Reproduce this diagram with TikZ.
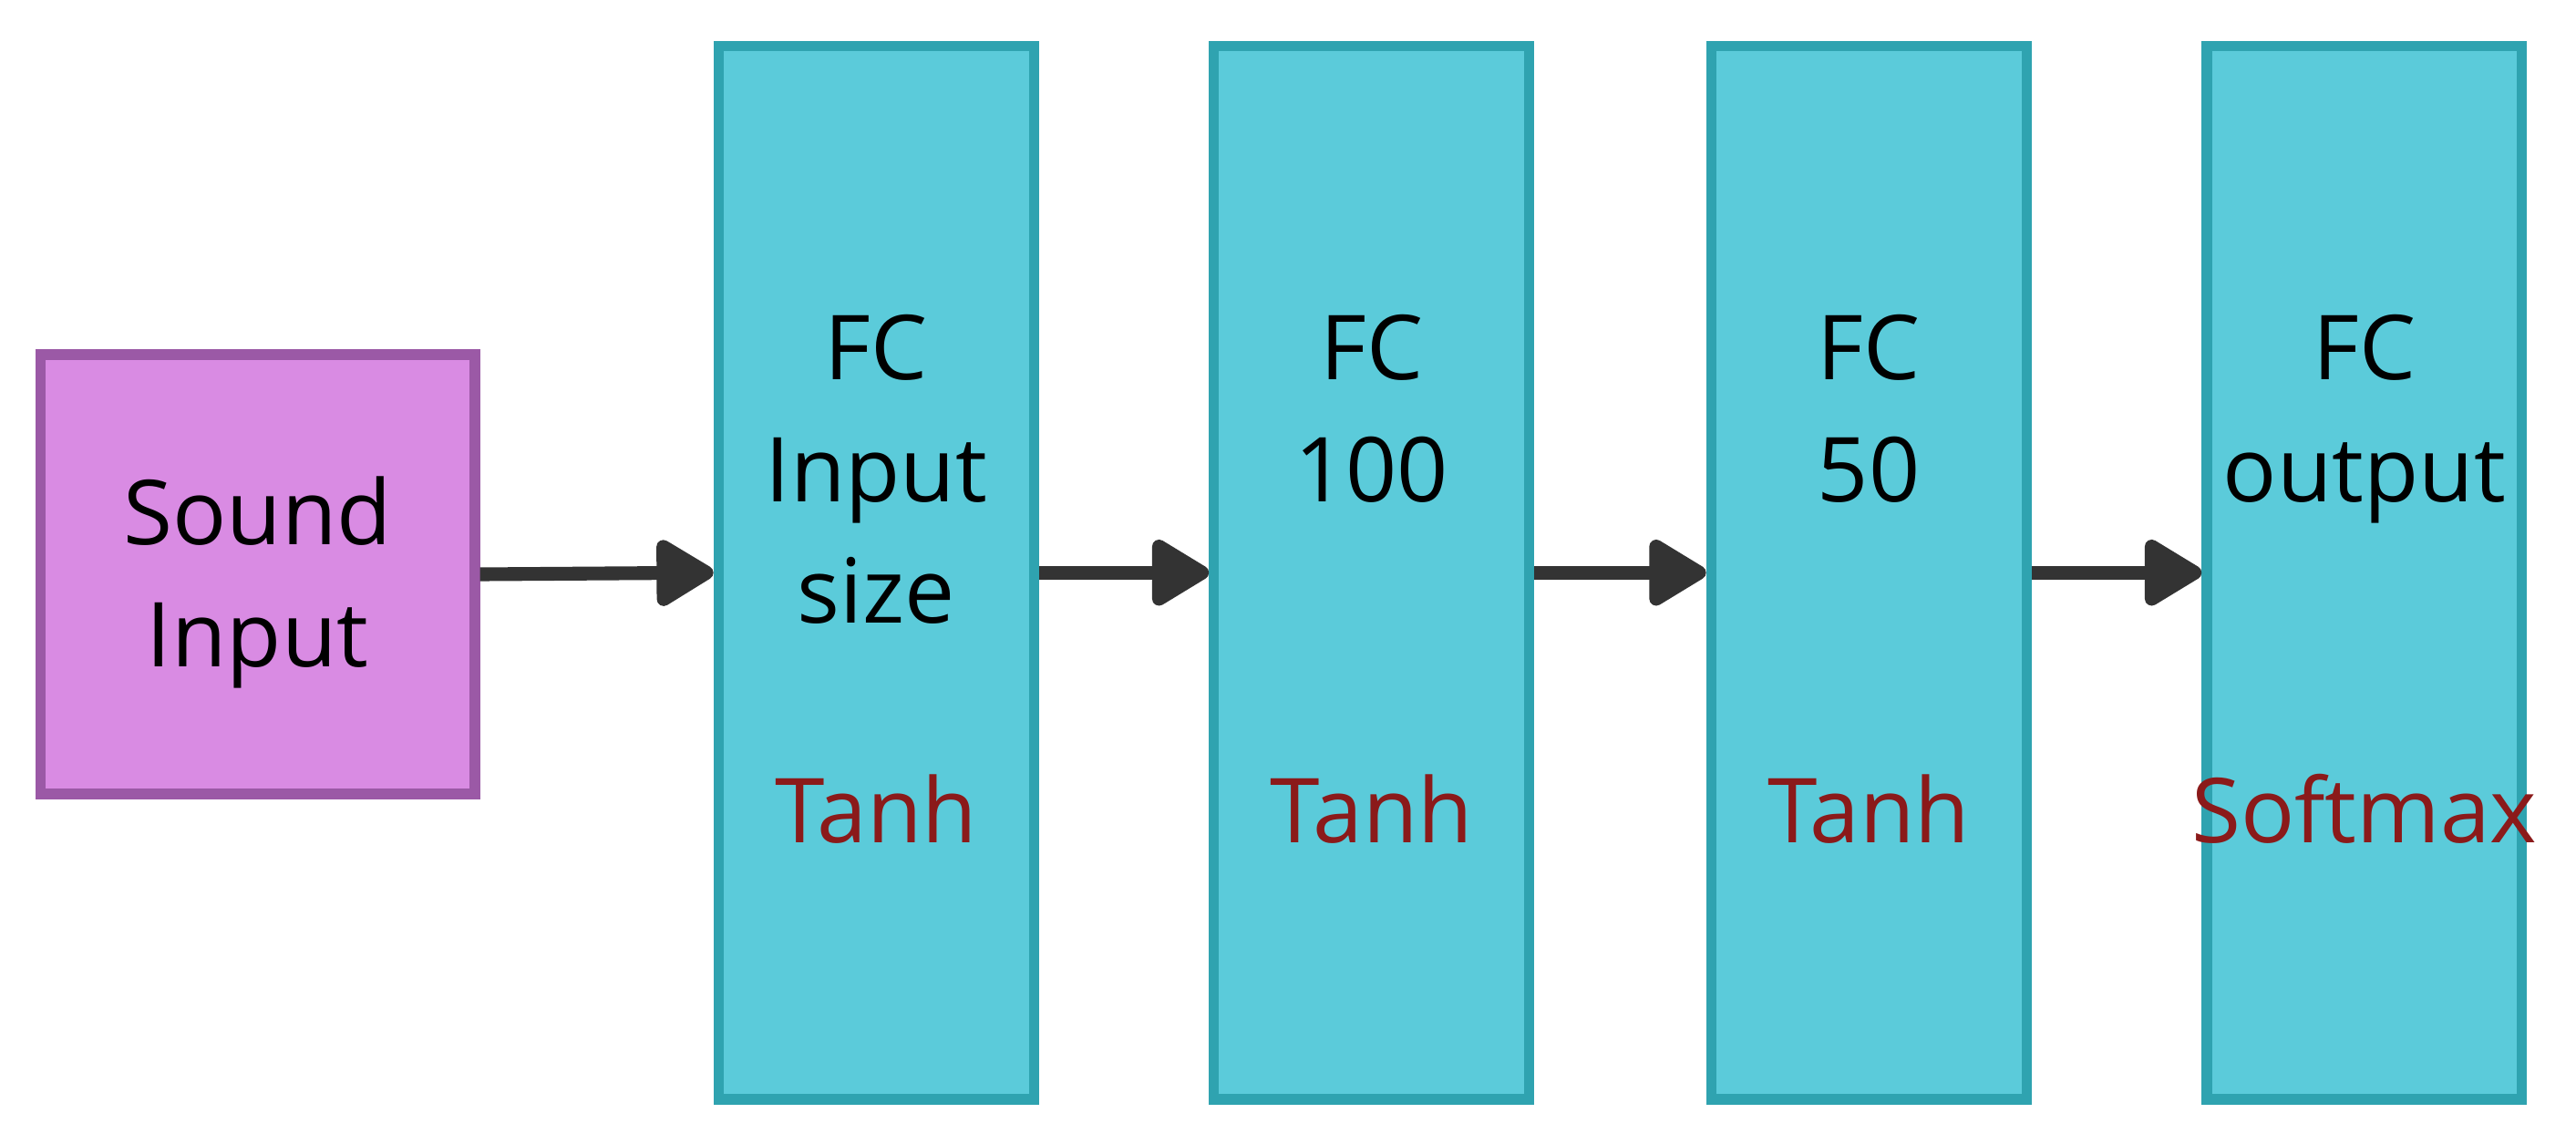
\documentclass[tikz,border=0pt]{standalone}
\usepackage{fontspec}
\setmainfont{Open Sans}
\usetikzlibrary{arrows.meta}
\definecolor{pinkf}{HTML}{D98BE3}
\definecolor{pinkd}{HTML}{9B59A6}
\definecolor{cyanf}{HTML}{5BCBDA}
\definecolor{cyand}{HTML}{2FA3B0}
\definecolor{act}{HTML}{8B1A1A}
\definecolor{arr}{HTML}{333333}
\begin{document}
\begin{tikzpicture}[x=0.018cm,y=-0.018cm,
  box/.style={draw=cyand,fill=cyanf,line width=3.2pt,minimum width=3.46cm,minimum height=11.56cm,inner sep=0pt},
  lbl/.style={font=\fontsize{28}{38}\selectfont,align=center,text=black},
  actl/.style={font=\fontsize{28}{38}\selectfont,text=act},
  con/.style={draw=arr,line width=4.3pt,-{Triangle[length=0.7cm,width=0.8cm,round]}}]
\useasboundingbox (0,0) rectangle (1570,697);
\node[draw=pinkd,fill=pinkf,line width=3.2pt,minimum width=4.77cm,minimum height=4.82cm,inner sep=0pt] (in) at (157,350) {};
\node[lbl] at (157,355) {Sound\\Input};
\foreach \n/\x in {a/534,b/836,c/1139,d/1441}{
  \node[box] (\n) at (\x,349) {};
}
\node[lbl,anchor=north] at (534,185) {FC\\Input\\size};
\node[lbl,anchor=north] at (836,185) {FC\\100};
\node[lbl,anchor=north] at (1139,185) {FC\\50};
\node[lbl,anchor=north] at (1441,185) {FC\\output};
\node[actl] at (534,493) {Tanh};
\node[actl] at (836,493) {Tanh};
\node[actl] at (1139,493) {Tanh};
\node[actl] at (1441,493) {Softmax};
\draw[con] (in.east) -- (a.west);
\draw[con] (a.east) -- (b.west);
\draw[con] (b.east) -- (c.west);
\draw[con] (c.east) -- (d.west);
\end{tikzpicture}
\end{document}
